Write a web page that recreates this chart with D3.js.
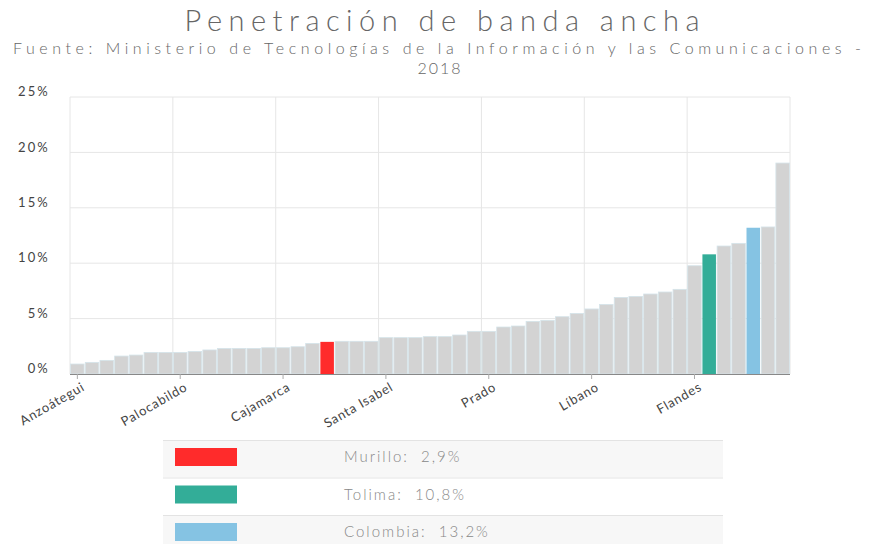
<!DOCTYPE html>
<html>
<head>
<meta charset="utf-8">
<script src="https://cdn.jsdelivr.net/npm/d3@7"></script>
<style>
  body { margin: 0; background: #fff; }
  text { font-family: Lato, "Open Sans", sans-serif; }
</style>
</head>
<body>
<div id="chart"></div>
<script>
// municipios de Tolima + Tolima + Colombia, ordered by value
const categories = [
  'Anzoátegui', 'Alpujarra', 'Ataco', 'Planadas', 'Rioblanco', 'Roncesvalles', 'Coyaima',
  'Palocabildo', 'Herveo', 'Villarrica', 'Dolores', 'Casabianca', 'Villahermosa', 'San Antonio',
  'Cajamarca', 'Natagaima', 'Ortega', 'Murillo', 'Falan', 'Suárez', 'Valle de San Juan',
  'Santa Isabel', 'Alvarado', 'San Luis', 'Rovira', 'Cunday', 'Icononzo', 'Coello',
  'Prado', 'Piedras', 'Saldaña', 'Armero', 'Ambalema', 'Carmen de Apicalá', 'Purificación',
  'Líbano', 'Venadillo', 'Fresno', 'Lérida', 'Guamo', 'Chaparral', 'Mariquita',
  'Flandes', 'Tolima', 'Espinal', 'Melgar', 'Colombia', 'Honda', 'Ibagué'
]
const values = [
  0.9, 1.05, 1.23, 1.62, 1.71, 1.95, 1.95,
  1.95, 2.04, 2.17, 2.31, 2.31, 2.31, 2.37,
  2.37, 2.46, 2.76, 2.9, 2.95, 2.95, 2.95,
  3.28, 3.28, 3.28, 3.37, 3.37, 3.52, 3.85,
  3.85, 4.24, 4.33, 4.75, 4.84, 5.17, 5.47,
  5.87, 6.28, 6.91, 7.0, 7.22, 7.4, 7.64,
  9.77, 10.8, 11.55, 11.79, 13.2, 13.27, 19.04
]
const yTicks = [0, 5, 10, 15, 20, 25]
const highlights = ['Murillo', 'Tolima', 'Colombia']
const highlightColors = ['#ff2b2b', '#33ad98', '#85c3e3']
const legendLabels = ['Murillo:  2,9%', 'Tolima:  10,8%', 'Colombia:  13,2%']

const width = 872, height = 544
const marginLeft = 70, marginRight = 82, marginTop = 97, plotBottom = 374

const svg = d3.select('#chart').append('svg')
  .attr('width', width)
  .attr('height', height)

// titles
svg.append('text')
  .attr('x', 442).attr('y', 31)
  .attr('text-anchor', 'middle')
  .attr('fill', '#666')
  .attr('font-size', 29)
  .attr('font-weight', 300)
  .attr('textLength', 515)
  .attr('lengthAdjust', 'spacing')
  .text('Penetración de banda ancha')

svg.append('text')
  .attr('x', 437).attr('y', 54)
  .attr('text-anchor', 'middle')
  .attr('fill', '#666')
  .attr('font-size', 16)
  .attr('font-weight', 300)
  .attr('textLength', 848)
  .attr('lengthAdjust', 'spacing')
  .text('Fuente: Ministerio de Tecnologías de la Información y las Comunicaciones -')
svg.append('text')
  .attr('x', 440).attr('y', 74)
  .attr('text-anchor', 'middle')
  .attr('fill', '#666')
  .attr('font-size', 16)
  .attr('font-weight', 300)
  .attr('letter-spacing', 2)
  .text('2018')

// scales
const x = d3.scaleBand()
  .domain(categories)
  .range([marginLeft, width - marginRight])
  .paddingInner(0.08)
  .paddingOuter(0.04)

const y = d3.scaleLinear()
  .domain([0, 25])
  .range([plotBottom, marginTop])

const color = d3.scaleOrdinal()
  .domain(highlights)
  .range(highlightColors)
  .unknown('#d3d3d3')

// grid
const grid = svg.append('g')
grid.selectAll('line.h')
  .data(yTicks)
  .join('line')
  .attr('class', 'h')
  .attr('x1', marginLeft).attr('x2', width - marginRight)
  .attr('y1', d => y(d)).attr('y2', d => y(d))
  .attr('stroke', '#e6e6e6')

const step = x.step()
const vLines = d3.range(0, categories.length + 1, 7)
grid.selectAll('line.v')
  .data(vLines)
  .join('line')
  .attr('class', 'v')
  .attr('x1', d => marginLeft + d * step).attr('x2', d => marginLeft + d * step)
  .attr('y1', marginTop).attr('y2', plotBottom)
  .attr('stroke', '#e6e6e6')

// bars
svg.append('g')
  .selectAll('rect')
  .data(categories)
  .join('rect')
  .attr('x', d => x(d))
  .attr('width', x.bandwidth())
  .attr('y', (d, i) => y(values[i]))
  .attr('height', (d, i) => y(0) - y(values[i]))
  .attr('fill', d => color(d))
  .attr('stroke', d => highlights.includes(d) ? 'none' : '#d5e4ea')
  .attr('stroke-width', 0.8)

// y axis
const yAxis = svg.append('g')
  .attr('transform', `translate(${marginLeft},0)`)
  .call(d3.axisLeft(y).tickValues(yTicks).tickSize(0).tickPadding(20).tickFormat(d => d + '%'))
yAxis.select('.domain').remove()
yAxis.selectAll('text')
  .attr('fill', '#444')
  .attr('font-size', 13)
  .attr('letter-spacing', 2.2)
  .attr('dy', '-0.1em')

// x axis
const xAxis = svg.append('g')
  .attr('transform', `translate(0,${plotBottom})`)
  .call(d3.axisBottom(x).tickValues(categories.filter((d, i) => i % 7 === 0)).tickSize(5).tickSizeOuter(0))
xAxis.select('.domain')
  .attr('stroke', '#888')
  .attr('d', `M${marginLeft},0.5H${width - marginRight}`)
xAxis.selectAll('.tick line').attr('stroke', '#aaa')
xAxis.selectAll('text')
  .attr('fill', '#444')
  .attr('font-size', 13)
  .attr('letter-spacing', 0.8)
  .attr('text-anchor', 'end')
  .attr('transform', 'translate(1,3) rotate(-30)')
  .attr('dy', '0.5em')
  .attr('dx', 0)

// legend table
const legend = svg.append('g')
const rowH = 37.5, legendTop = 440, legendX = 163, legendW = 560
const rows = legend.selectAll('g')
  .data(highlights)
  .join('g')
  .attr('transform', (d, i) => `translate(${legendX},${legendTop + i * rowH})`)
rows.append('rect')
  .attr('width', legendW).attr('height', rowH)
  .attr('fill', (d, i) => i % 2 === 0 ? '#f7f7f7' : '#fff')
rows.append('line')
  .attr('x1', 0).attr('x2', legendW)
  .attr('y1', 0.5).attr('y2', 0.5)
  .attr('stroke', '#e3e3e3')
rows.append('rect')
  .attr('x', 12).attr('y', 8)
  .attr('width', 62).attr('height', 18)
  .attr('fill', d => color(d))
rows.append('text')
  .attr('x', 181).attr('y', 17)
  .attr('dy', '0.35em')
  .attr('fill', '#888')
  .attr('font-size', 15)
  .attr('font-weight', 300)
  .attr('letter-spacing', 2)
  .style('white-space', 'pre')
  .text((d, i) => legendLabels[i])
</script>
</body>
</html>
